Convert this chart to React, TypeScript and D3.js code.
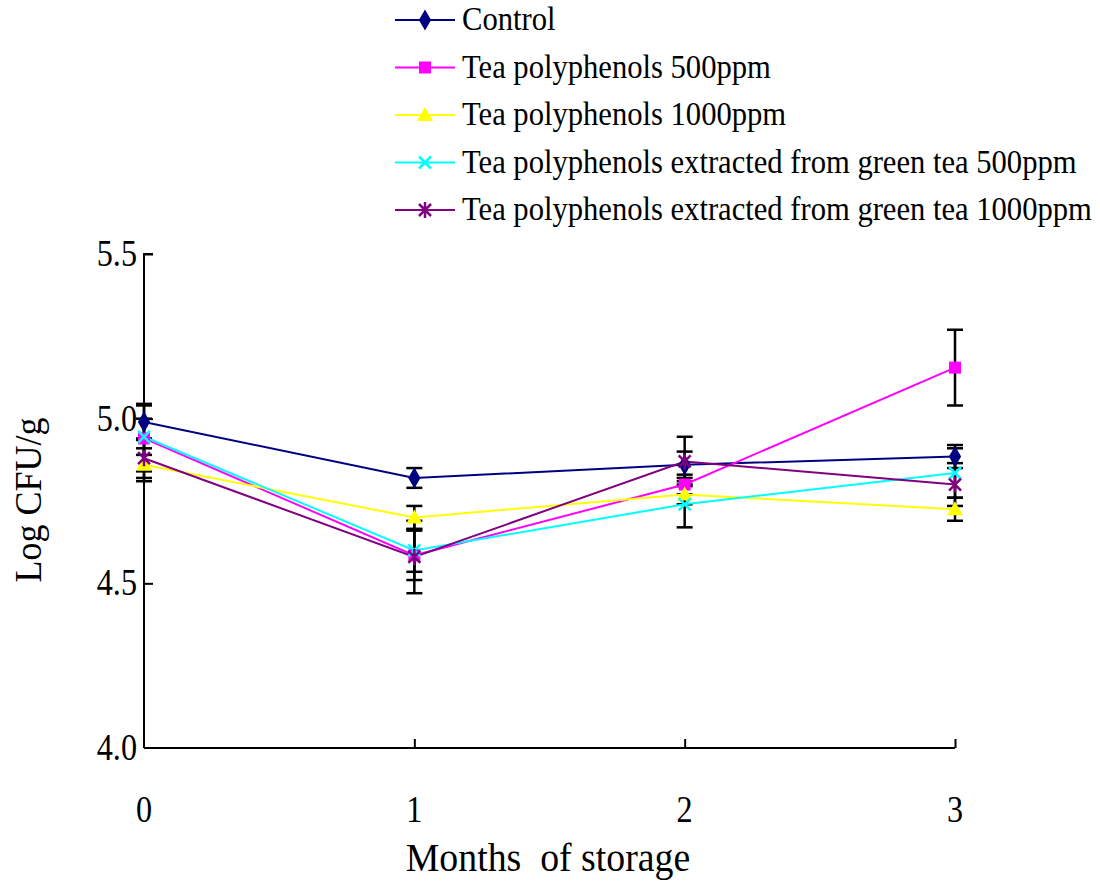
import React, { useEffect, useRef } from "react";
import * as d3 from "d3";

// months of storage
const months = [0, 1, 2, 3];
const yTicks = [4.0, 4.5, 5.0, 5.5];

const seriesNames = [
  "Control",
  "Tea polyphenols 500ppm",
  "Tea polyphenols 1000ppm",
  "Tea polyphenols extracted from green tea 500ppm",
  "Tea polyphenols extracted from green tea 1000ppm",
];

// Log CFU/g
const control = [4.99, 4.82, 4.86, 4.885];
const tp500 = [4.94, 4.585, 4.8, 5.155];
const tp1000 = [4.86, 4.7, 4.77, 4.725];
const gt500 = [4.945, 4.6, 4.74, 4.835];
const gt1000 = [4.88, 4.58, 4.87, 4.8];

// error bar half-lengths
const controlErr = [0.055, 0.03, 0.04, 0.035];
const tp500Err = [0.1, 0.075, 0.03, 0.115];
const tp1000Err = [0.05, 0.035, 0.03, 0.035];
const gt500Err = [0.055, 0.065, 0.07, 0.075];
const gt1000Err = [0.06, 0.11, 0.075, 0.065];

const colors = ["#000080", "#ff00ff", "#ffff00", "#00ffff", "#800080"];
const shapes = ["diamond", "square", "triangle", "cross", "star"];

const App = () => {
  const ref = useRef<SVGSVGElement>(null);

  const width = 1100;
  const height = 881;
  const left = 144;
  const right = 955;
  const top = 254;
  const bottom = 748;
  const font = "'Liberation Serif', 'Times New Roman', serif";

  useEffect(() => {
    const svg = d3.select(ref.current);
    svg.selectAll("*").remove();

    const x = d3.scaleLinear().domain([0, 3]).range([left, right]);
    const y = d3.scaleLinear().domain([4, 5.5]).range([bottom, top]);

    const values = [control, tp500, tp1000, gt500, gt1000];
    const errs = [controlErr, tp500Err, tp1000Err, gt500Err, gt1000Err];

    // axes
    const yAxis = svg
      .append("g")
      .attr("transform", `translate(${left},0)`)
      .call(d3.axisRight(y).tickValues(yTicks.slice(1)).tickSize(9).tickFormat(() => ""));
    yAxis.select(".domain").attr("d", `M9,${top}H0V${bottom}`).attr("stroke-width", 2);
    yAxis.selectAll(".tick line").attr("stroke-width", 2);

    const xAxis = svg
      .append("g")
      .attr("transform", `translate(0,${bottom})`)
      .call(d3.axisTop(x).tickValues(months.slice(1)).tickSize(9).tickFormat(() => ""));
    xAxis.select(".domain").attr("d", `M${left},0H${right}`).attr("stroke-width", 2);
    xAxis.selectAll(".tick line").attr("stroke-width", 2);

    // slightly tall serif text like the original
    const tall = (sel: any, cx: number, cy: number, sx = 0.92) =>
      sel.attr("transform", `translate(${cx},${cy}) scale(${sx},1.1)`);

    svg
      .append("g")
      .selectAll("text")
      .data(yTicks)
      .join("text")
      .each(function (d) {
        tall(d3.select(this), left - 7, y(d) + 12);
      })
      .attr("text-anchor", "end")
      .style("font-family", font)
      .style("font-size", "35px")
      .text((d) => d.toFixed(1));

    svg
      .append("g")
      .selectAll("text")
      .data(months)
      .join("text")
      .each(function (d) {
        tall(d3.select(this), x(d), 822);
      })
      .attr("text-anchor", "middle")
      .style("font-family", font)
      .style("font-size", "35px")
      .text((d) => d);

    tall(svg.append("text"), 548, 871, 1.05)
      .attr("text-anchor", "middle")
      .style("font-family", font)
      .style("font-size", "36px")
      .style("white-space", "pre")
      .text("Months  of storage");

    svg
      .append("text")
      .attr("transform", `translate(41,${500}) rotate(-90) scale(1.0,1.05)`)
      .attr("text-anchor", "middle")
      .style("font-family", font)
      .style("font-size", "36px")
      .text("Log CFU/g");

    // error bars
    values.forEach((vals, i) => {
      const g = svg.append("g").attr("stroke", "#000").attr("stroke-width", 2.5);
      vals.forEach((v, j) => {
        const e = errs[i][j];
        const cx = x(months[j]);
        g.append("line").attr("x1", cx).attr("x2", cx).attr("y1", y(v - e)).attr("y2", y(v + e));
        g.append("line").attr("x1", cx - 8).attr("x2", cx + 8).attr("y1", y(v - e)).attr("y2", y(v - e));
        g.append("line").attr("x1", cx - 8).attr("x2", cx + 8).attr("y1", y(v + e)).attr("y2", y(v + e));
      });
    });

    const line = d3
      .line<number>()
      .x((d, j) => x(months[j]))
      .y((d) => y(d));

    const drawMarker = (g: any, shape: string, color: string, cx: number, cy: number) => {
      if (shape === "diamond") {
        g.append("path")
          .attr("d", d3.symbol(d3.symbolDiamond, 130)())
          .attr("transform", `translate(${cx},${cy})`)
          .attr("fill", color);
      } else if (shape === "square") {
        g.append("rect")
          .attr("x", cx - 6)
          .attr("y", cy - 6)
          .attr("width", 12)
          .attr("height", 12)
          .attr("fill", color);
      } else if (shape === "triangle") {
        g.append("path")
          .attr("d", `M${cx},${cy - 8}L${cx + 8},${cy + 6}L${cx - 8},${cy + 6}Z`)
          .attr("fill", color);
      } else if (shape === "cross") {
        g.append("path")
          .attr("d", `M${cx - 6},${cy - 6}L${cx + 6},${cy + 6}M${cx - 6},${cy + 6}L${cx + 6},${cy - 6}`)
          .attr("stroke", color)
          .attr("stroke-width", 2.5);
      } else {
        g.append("path")
          .attr(
            "d",
            `M${cx - 6},${cy - 6}L${cx + 6},${cy + 6}M${cx - 6},${cy + 6}L${cx + 6},${cy - 6}M${cx},${cy - 8}V${cy + 8}`
          )
          .attr("stroke", color)
          .attr("stroke-width", 2.5);
      }
    };

    values.forEach((vals, i) => {
      svg
        .append("path")
        .datum(vals)
        .attr("d", line)
        .attr("fill", "none")
        .attr("stroke", colors[i])
        .attr("stroke-width", 2);
    });

    values.forEach((vals, i) => {
      const g = svg.append("g");
      vals.forEach((v, j) => drawMarker(g, shapes[i], colors[i], x(months[j]), y(v)));
    });

    // legend
    const legend = svg.append("g");
    seriesNames.forEach((name, i) => {
      const ly = 20 + i * 47.5;
      legend
        .append("line")
        .attr("x1", 395)
        .attr("x2", 455)
        .attr("y1", ly)
        .attr("y2", ly)
        .attr("stroke", colors[i])
        .attr("stroke-width", 2);
      drawMarker(legend, shapes[i], colors[i], 425, ly);
      tall(legend.append("text"), 462, ly + 10, 1.02)
        .style("font-family", font)
        .style("font-size", "30px")
        .text(name);
    });
  }, []);

  return (
    <svg
      ref={ref}
      width={width}
      height={height}
      style={{ position: "absolute", left: 0, top: 0, background: "#fff" }}
    />
  );
};

export default App;
